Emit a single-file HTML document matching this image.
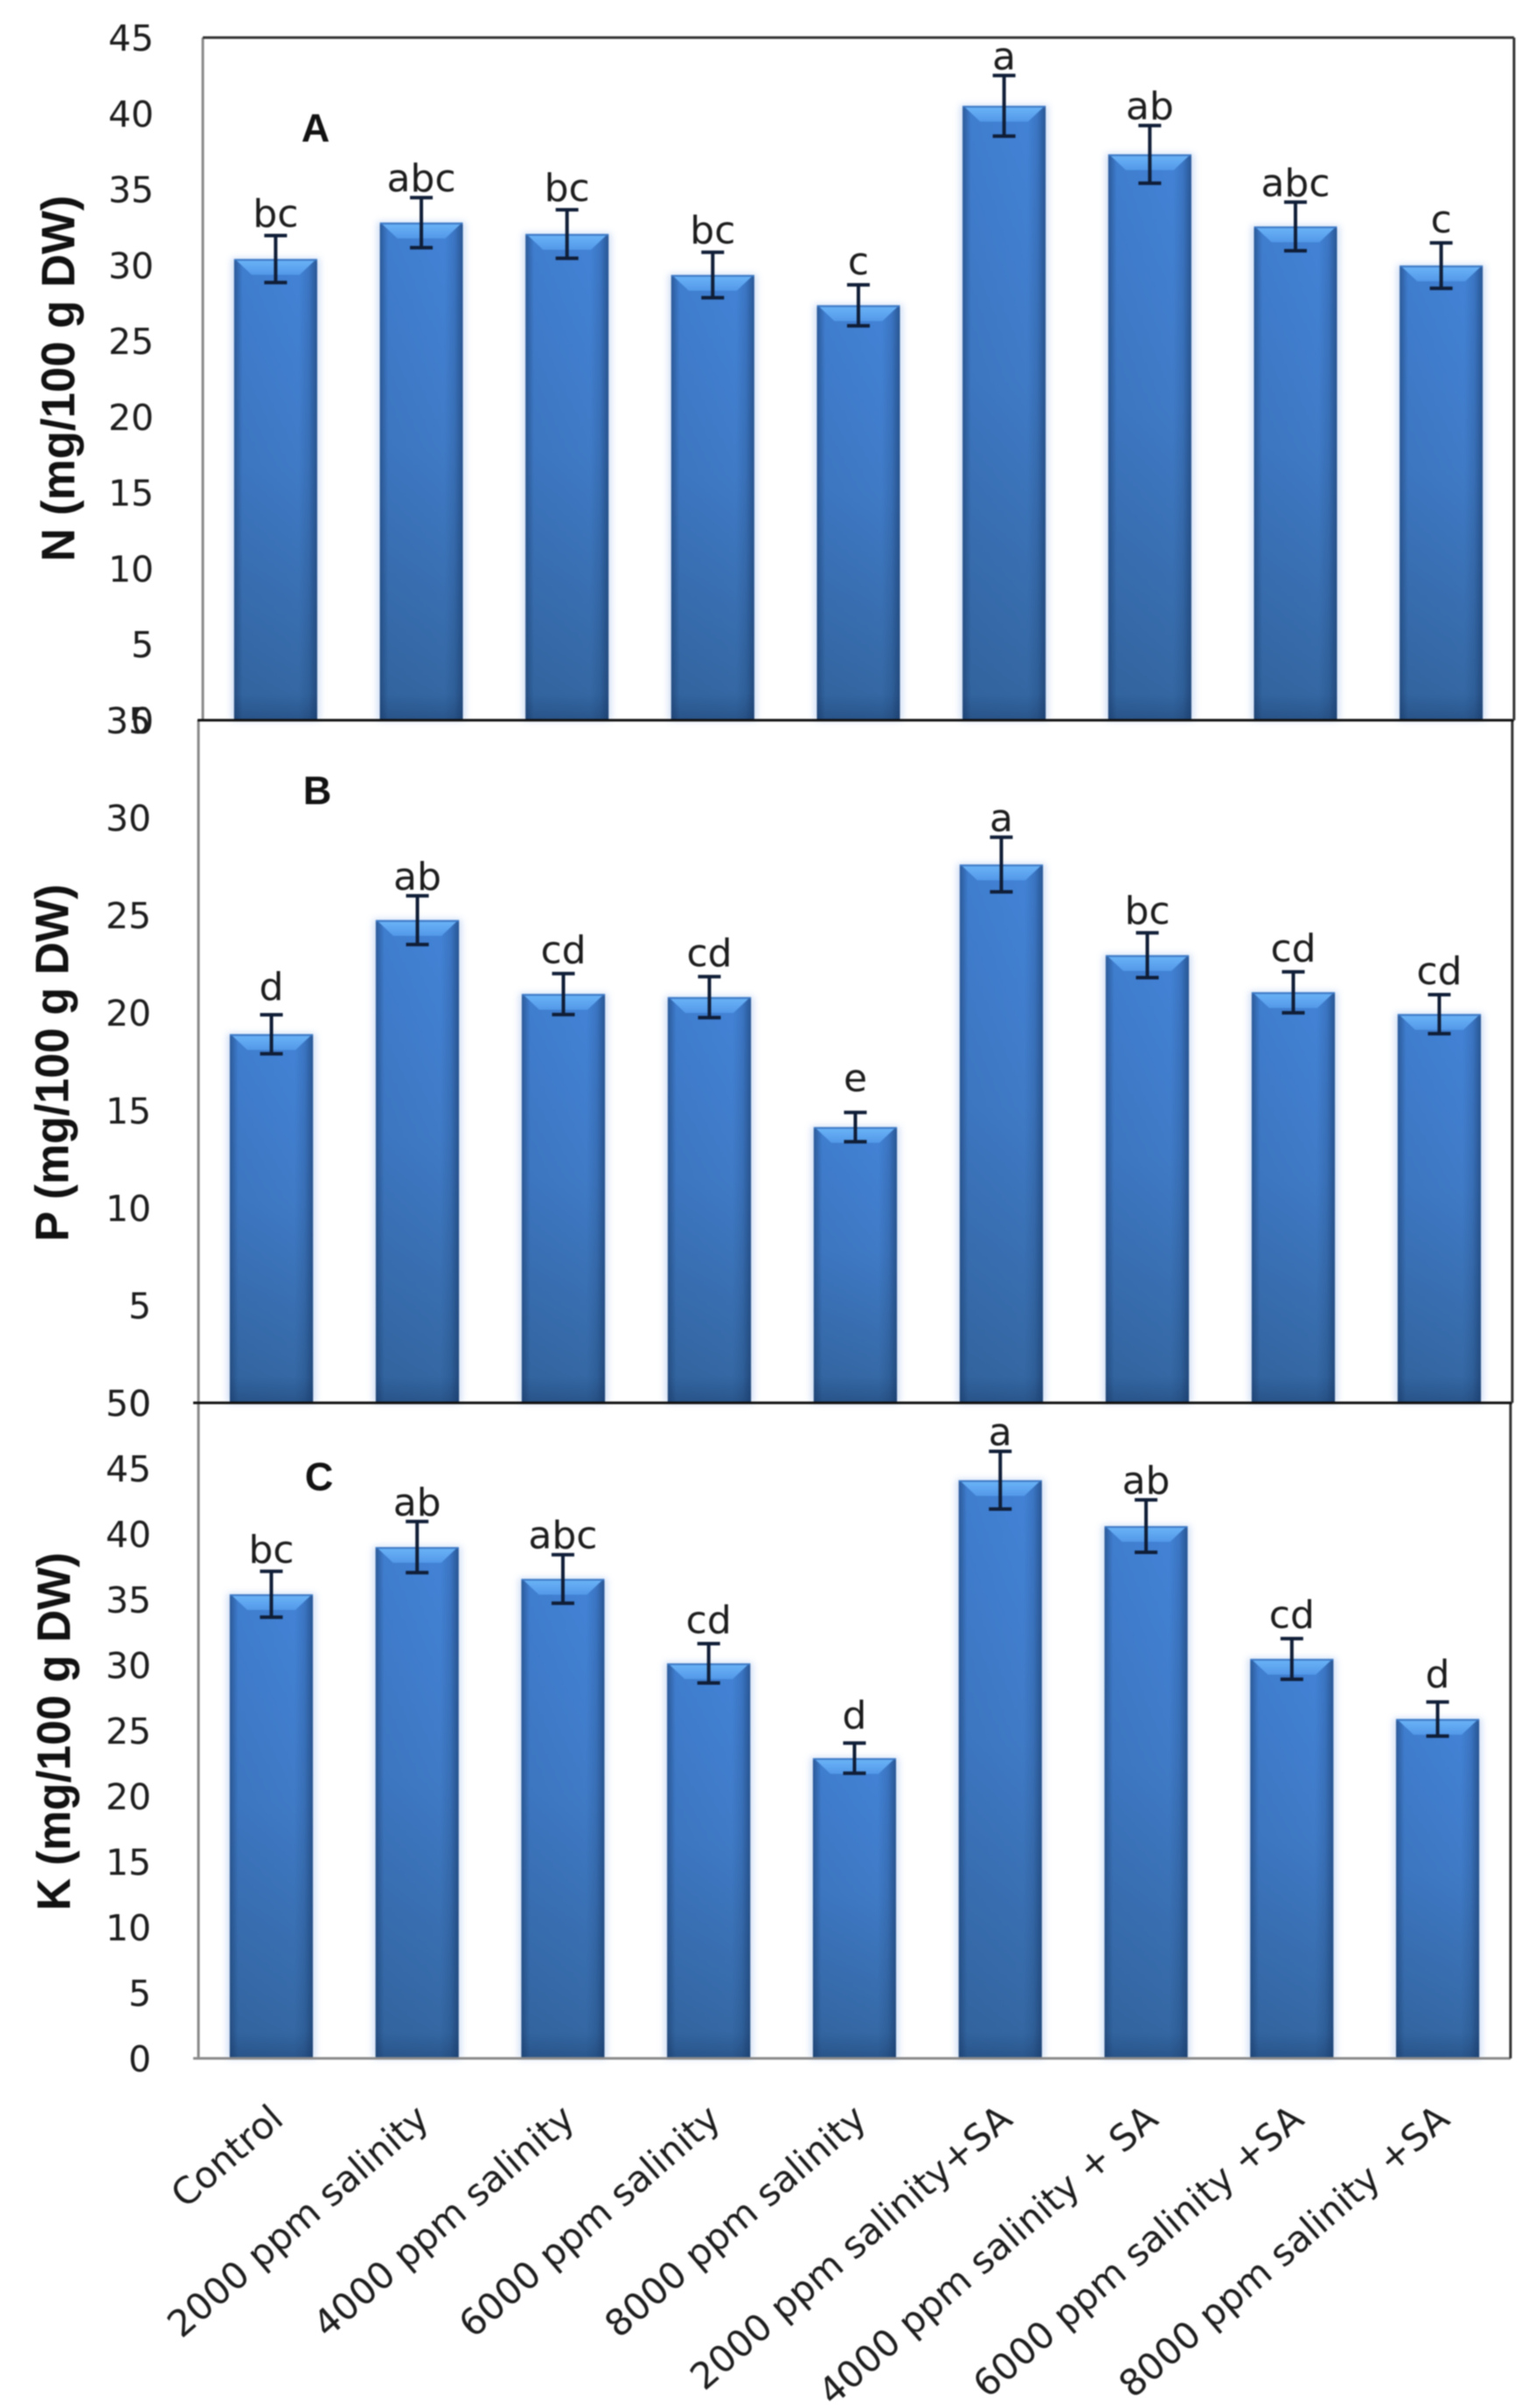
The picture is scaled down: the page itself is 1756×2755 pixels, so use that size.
<!DOCTYPE html>
<html lang="en">
<head>
<meta charset="utf-8">
<title>N, P and K content under salinity and SA</title>
<style>
html,body{margin:0;padding:0;background:#fff;width:1756px;height:2755px;overflow:hidden}
svg{display:block;filter:blur(0.7px)}
text{font-family:"DejaVu Sans","Liberation Sans",sans-serif;fill:#1c1c1c}
.bold{font-family:"Liberation Sans",sans-serif;font-weight:700;fill:#111}
</style>
</head>
<body>
<svg id="chart" xmlns="http://www.w3.org/2000/svg" width="1756" height="2755" viewBox="0 0 1756 2755">
<defs>
<linearGradient id="barFill" x1="0" y1="0" x2="0" y2="1">
<stop offset="0" stop-color="#4282d6"/><stop offset="0.45" stop-color="#3f7ac6"/><stop offset="1" stop-color="#33659f"/>
</linearGradient>
<linearGradient id="barEdge" x1="0" y1="0" x2="1" y2="0">
<stop offset="0" stop-color="#12305c" stop-opacity="0.5"/><stop offset="0.1" stop-color="#12305c" stop-opacity="0.06"/><stop offset="0.78" stop-color="#12305c" stop-opacity="0"/><stop offset="0.9" stop-color="#12305c" stop-opacity="0.16"/><stop offset="1" stop-color="#12305c" stop-opacity="0.55"/>
</linearGradient>
<linearGradient id="barBottom" x1="0" y1="0" x2="0" y2="1">
<stop offset="0" stop-color="#12305c" stop-opacity="0"/><stop offset="1" stop-color="#12305c" stop-opacity="0.3"/>
</linearGradient>
<linearGradient id="barCap" x1="0" y1="0" x2="0" y2="1">
<stop offset="0" stop-color="#6cb5f8"/><stop offset="1" stop-color="#5298e8"/>
</linearGradient>
<filter id="halo" x="-20%" y="-5%" width="140%" height="110%"><feGaussianBlur stdDeviation="4"/></filter>
</defs>
</svg>
<script>
const categories = ['Control','2000 ppm salinity','4000 ppm salinity','6000 ppm salinity','8000 ppm salinity','2000 ppm salinity+SA','4000 ppm salinity + SA','6000 ppm salinity +SA','8000 ppm salinity +SA'];

const nValues = [30.4,32.8,32.05,29.35,27.35,40.5,37.3,32.55,29.97];
const nErrors = [1.55,1.65,1.6,1.5,1.35,2.0,1.9,1.6,1.5];
const nLetters = ['bc','abc','bc','bc','c','a','ab','abc','c'];
const nTicks = [0,5,10,15,20,25,30,35,40,45];

const pValues = [18.9,24.75,20.96,20.8,14.14,27.6,22.95,21.05,19.93];
const pErrors = [1.0,1.25,1.05,1.05,0.75,1.4,1.15,1.05,1.0];
const pLetters = ['d','ab','cd','cd','e','a','bc','cd','cd'];
const pTicks = [0,5,10,15,20,25,30,35];

const kValues = [35.4,39.0,36.57,30.13,22.9,44.1,40.6,30.47,25.88];
const kErrors = [1.75,1.95,1.85,1.5,1.15,2.2,2.0,1.55,1.3];
const kLetters = ['bc','ab','abc','cd','d','a','ab','cd','d'];
const kTicks = [0,5,10,15,20,25,30,35,40,45,50];

const svg = document.getElementById('chart');
const NS = 'http://www.w3.org/2000/svg';

function letterGap(s) {
  if (s === 'e') return 24;
  if (s === 'd') return 17;
  if (s === 'c' || s === 'cd') return 12;
  if (s === 'bc') return 10;
  return 7;
}

function mk(tag, attrs, parent) {
  const el = document.createElementNS(NS, tag);
  for (const k in attrs) el.setAttribute(k, attrs[k]);
  parent.appendChild(el);
  return el;
}

function drawPanel(key, title, letter, values, errors, letters, ticks, box) {
  const yMax = ticks[ticks.length - 1];
  const yScale = v => box.bottom - (v / yMax) * (box.bottom - box.top);
  const step = (box.right - box.left) / categories.length;
  const xScale = i => box.left + step * (i + 0.5);
  const barW = step * 0.57;

  const g = mk('g', {}, svg);
  
  

  const plot = mk('rect', {x: box.left, y: box.top, width: box.right - box.left, height: box.bottom - box.top, fill: '#fff'}, g);
  
  

  values.forEach((v, i) => {
    const cx = xScale(i), x = cx - barW / 2, y = yScale(v), h = box.bottom - y;

    const barGroup = mk('g', {}, g);
    
    

    mk('rect', {x: x - 3, y: y - 1, width: barW + 6, height: h + 1, fill: '#a9c4ee', opacity: 0.55, filter: 'url(#halo)'}, barGroup);
    mk('rect', {x: x, y: y, width: barW, height: h, fill: 'url(#barFill)'}, barGroup);
    mk('rect', {x: x, y: y, width: barW, height: h, fill: 'url(#barEdge)'}, barGroup);
    mk('rect', {x: x, y: box.bottom - 30, width: barW, height: 30, fill: 'url(#barBottom)'}, barGroup);
    mk('polygon', {points: [x + 1, y, x + barW - 1, y, x + barW - 20, y + 18, x + 20, y + 18].join(' '), fill: 'url(#barCap)'}, barGroup);
    mk('rect', {x: x, y: y, width: barW, height: 2, fill: '#3d78c4'}, barGroup);
  });

  values.forEach((v, i) => {
    const cx = xScale(i), top = yScale(v + errors[i]), low = yScale(v - errors[i]);
    const err = mk('path', {d: 'M' + (cx - 13) + ' ' + top + 'H' + (cx + 13) + 'M' + cx + ' ' + top + 'V' + low + 'M' + (cx - 13) + ' ' + low + 'H' + (cx + 13), fill: 'none', stroke: '#0f1d36', 'stroke-width': 4}, g);
    
    

    const lab = mk('text', {x: cx, y: top - letterGap(letters[i]), 'text-anchor': 'middle', 'font-size': 44}, g);
    lab.textContent = letters[i];
    
    
  });

  ticks.forEach(t => {
    const tick = mk('text', {x: box.tickRight, y: yScale(t) + 15, 'text-anchor': 'end', 'font-size': 41}, g);
    tick.textContent = t;
    
    
  });

  const axisY = mk('line', {x1: box.left, y1: box.top, x2: box.left, y2: box.bottom, stroke: '#8a8a8a', 'stroke-width': 3}, g);
  
  

  const axisX = mk('line', {x1: box.left - 6, y1: box.bottom, x2: box.right, y2: box.bottom, stroke: box.bottomColor, 'stroke-width': 3}, g);
  
  

  const rightEdge = mk('line', {x1: box.right, y1: box.top, x2: box.right, y2: box.bottom, stroke: '#333', 'stroke-width': 3}, g);
  
  

  const yTitle = mk('text', {class: 'bold', x: 0, y: 0, 'text-anchor': 'middle', 'font-size': 54, textLength: box.titleLen, lengthAdjust: 'spacingAndGlyphs', transform: 'translate(' + box.titleX + ',' + box.titleY + ') rotate(-90)'}, g);
  yTitle.textContent = title;
  
  

  const tag = mk('text', {class: 'bold', x: box.letterX, y: box.letterY, 'text-anchor': 'middle', 'font-size': 45}, g);
  tag.textContent = letter;
  
  

  return xScale;
}

drawPanel('potassium', 'K (mg/100 g DW)', 'C', kValues, kErrors, kLetters, kTicks,
  {left: 227, right: 1728, top: 1605, bottom: 2355, tickRight: 173, bottomColor: '#8a8a8a', titleX: 80, titleY: 1981, titleLen: 410, letterX: 365, letterY: 1705});
drawPanel('phosphorus', 'P (mg/100 g DW)', 'B', pValues, pErrors, pLetters, pTicks,
  {left: 227, right: 1730, top: 824, bottom: 1605, tickRight: 173, bottomColor: '#111', titleX: 78, titleY: 1216, titleLen: 409, letterX: 363, letterY: 920});
drawPanel('nitrogen', 'N (mg/100 g DW)', 'A', nValues, nErrors, nLetters, nTicks,
  {left: 232, right: 1732, top: 43, bottom: 824, tickRight: 176, bottomColor: '#111', titleX: 85, titleY: 433, titleLen: 419, letterX: 361, letterY: 162});

const topEdge = mk('line', {x1: 232, y1: 43, x2: 1732, y2: 43, stroke: '#333', 'stroke-width': 3}, svg);



categories.forEach((c, i) => {
  const step = (1728 - 227) / categories.length;
  const cx = 227 + step * (i + 0.5);
  const x = cx + 16, y = 2428;
  const label = mk('text', {x: 0, y: 0, 'text-anchor': 'end', 'font-size': 42, transform: 'translate(' + x + ',' + y + ') rotate(-41)'}, svg);
  label.textContent = c;
  
  
});
</script>
</body>
</html>
